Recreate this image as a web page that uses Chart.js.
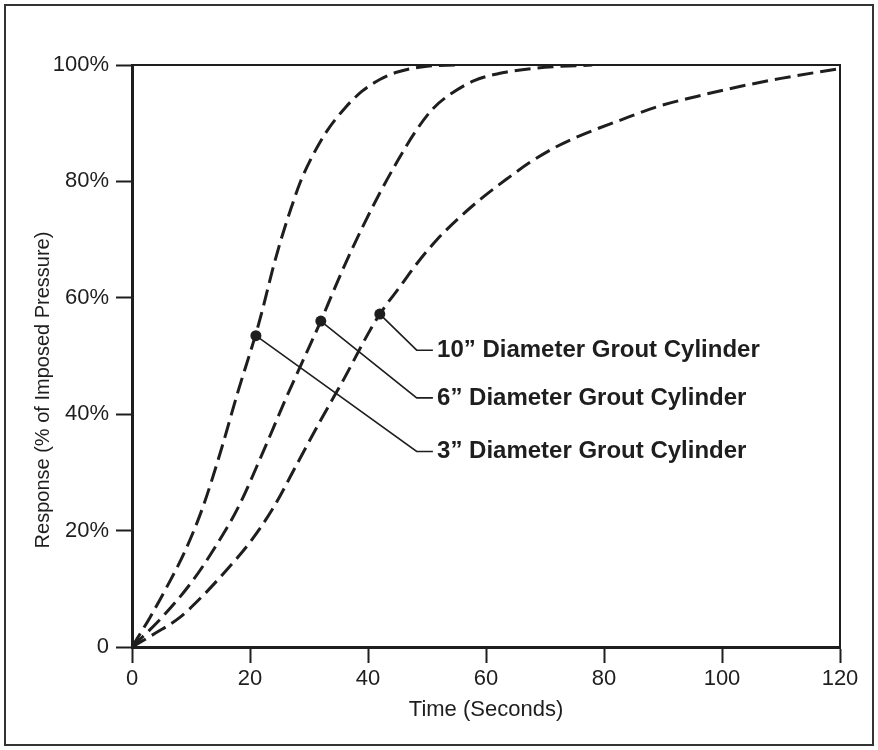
<!DOCTYPE html>
<html>
<head>
<meta charset="utf-8">
<script src="https://cdn.jsdelivr.net/npm/chart.js@4/dist/chart.umd.min.js"></script>
<style>
    body { margin: 0; background: #fff; }
    canvas { display: block; }
</style>
</head>
<body>
<canvas id="myChart" width="878" height="750"></canvas>
<script>
// data (time in seconds, response in %)
const seriesNames = ['3\u201D Diameter Grout Cylinder', '6\u201D Diameter Grout Cylinder', '10\u201D Diameter Grout Cylinder'];

const time3 = [0, 3, 6, 9, 12, 15, 18, 20, 21, 22, 23, 24, 25.5, 27, 28.5, 30.5, 33, 36, 39, 42, 45, 50, 55];
const resp3 = [0, 5, 10.5, 16.5, 24, 33.5, 44, 50.5, 53.8, 57.5, 61.5, 65.5, 70.8, 75.5, 79.8, 84.2, 88.6, 92.5, 95.5, 97.5, 98.8, 99.8, 100];

const time6 = [0, 5, 10, 14, 18, 22, 26, 30, 32, 34, 36, 39, 42, 45, 48, 51, 54, 58, 63, 70, 78];
const resp6 = [0, 5, 11, 17, 24, 33, 42.5, 51.5, 56, 60.8, 65.5, 72, 78, 83.5, 88.5, 92.5, 95, 97.3, 98.7, 99.6, 100];

const time10 = [0, 4, 8, 12, 16, 20, 24, 28, 32, 36, 40, 42, 45.4, 48.3, 51.6, 55.6, 59.5, 63.5, 67.5, 72, 77, 82.7, 88.9, 95.7, 103, 110, 120];
const resp10 = [0, 2.4, 5, 8.8, 13.2, 18, 24, 31.5, 39, 46.2, 53.8, 57.2, 61.9, 65.9, 69.9, 73.9, 77.3, 80.4, 83.3, 86, 88.3, 90.5, 92.8, 94.6, 96.3, 97.7, 99.4];

// marked points on each curve, and where the callout text sits
const markerTime = [21, 32, 42];
const markerResp = [53.5, 56, 57.2];
const calloutResp = [33.6, 42.8, 51];
const calloutBend = 48.25;
const calloutEnd = 51;
const calloutText = 51.7;

const xTicks = [0, 20, 40, 60, 80, 100, 120];
const xTickLabels = ['0', '20', '40', '60', '80', '100', '120'];
const yTicks = [0, 20, 40, 60, 80, 100];
const yTickLabels = ['0', '20%', '40%', '60%', '80%', '100%'];

const ink = '#1e1e1e';

function toPoints(xs, ys) {
    return xs.map((x, i) => ({ x: x, y: ys[i] }));
}

function curve(xs, ys) {
    return {
        data: toPoints(xs, ys),
        showLine: true,
        borderColor: ink,
        borderWidth: 3,
        borderDash: [16, 7],
        cubicInterpolationMode: 'monotone',
        pointRadius: 0,
        fill: false
    };
}

const datasets = [curve(time3, resp3), curve(time6, resp6), curve(time10, resp10)];

// leader lines from each marker to its label
for (let i = 0; i < markerTime.length; i++) {
    datasets.push({
        data: [
            { x: markerTime[i], y: markerResp[i] },
            { x: calloutBend, y: calloutResp[i] },
            { x: calloutEnd, y: calloutResp[i] }
        ],
        showLine: true,
        borderColor: ink,
        borderWidth: 1.6,
        tension: 0,
        pointRadius: 0
    });
}

// marker dots
datasets.push({
    data: toPoints(markerTime, markerResp),
    showLine: false,
    pointRadius: 5.5,
    pointBackgroundColor: ink,
    pointBorderWidth: 0
});

const framePlugin = {
    id: 'frame',
    beforeDraw(chart) {
        const ctx = chart.ctx;
        ctx.save();
        ctx.strokeStyle = '#333';
        ctx.lineWidth = 2;
        ctx.strokeRect(5, 5, 868, 740);
        ctx.restore();
    },
    afterDraw(chart) {
        const ctx = chart.ctx;
        const a = chart.chartArea;
        const x = chart.scales.x;
        const y = chart.scales.y;
        ctx.save();
        // top and right edges of the plot box
        ctx.strokeStyle = ink;
        ctx.lineWidth = 2;
        ctx.beginPath();
        ctx.moveTo(a.left, a.top);
        ctx.lineTo(a.right, a.top);
        ctx.lineTo(a.right, a.bottom);
        ctx.stroke();

        // callout labels
        ctx.fillStyle = ink;
        ctx.font = 'bold 24px "Liberation Sans", Arial, sans-serif';
        ctx.textAlign = 'left';
        ctx.textBaseline = 'middle';
        for (let i = 0; i < seriesNames.length; i++) {
            ctx.fillText(seriesNames[i], x.getPixelForValue(calloutText), y.getPixelForValue(calloutResp[i]));
        }

        // y axis title
        ctx.font = '20px "Liberation Sans", Arial, sans-serif';
        ctx.textAlign = 'center';
        ctx.translate(43, 390);
        ctx.rotate(-Math.PI / 2);
        ctx.fillText('Response (% of Imposed Pressure)', 0, 0);
        ctx.restore();
    }
};

var ctx = document.getElementById('myChart').getContext('2d');
var chart = new Chart(ctx, {
    type: 'scatter',
    data: { datasets: datasets },
    options: {
        responsive: false,
        devicePixelRatio: 1,
        animation: false,
        layout: { padding: { left: 0, top: 65, right: 38, bottom: 0 } },
        plugins: { legend: { display: false }, tooltip: { enabled: false } },
        scales: {
            x: {
                type: 'linear',
                min: 0,
                max: 120,
                afterFit(scale) { scale.height = 103; },
                afterBuildTicks(scale) { scale.ticks = xTicks.map(v => ({ value: v })); },
                grid: { drawOnChartArea: false, drawTicks: true, tickLength: 16, tickWidth: 2, tickColor: ink },
                border: { display: true, color: ink, width: 3 },
                ticks: {
                    color: ink,
                    padding: 3,
                    maxRotation: 0,
                    font: { family: '"Liberation Sans", Arial, sans-serif', size: 22 },
                    callback: (v) => xTickLabels[xTicks.indexOf(v)]
                },
                title: {
                    display: true,
                    text: 'Time (Seconds)',
                    color: ink,
                    padding: { top: 0, bottom: 27 },
                    font: { family: '"Liberation Sans", Arial, sans-serif', size: 22 }
                }
            },
            y: {
                type: 'linear',
                min: 0,
                max: 100,
                afterFit(scale) { scale.width = 132; },
                afterBuildTicks(scale) { scale.ticks = yTicks.map(v => ({ value: v })); },
                grid: { drawOnChartArea: false, drawTicks: true, tickLength: 16, tickWidth: 2, tickColor: ink },
                border: { display: true, color: ink, width: 3 },
                ticks: {
                    color: ink,
                    padding: 7,
                    font: { family: '"Liberation Sans", Arial, sans-serif', size: 22 },
                    callback: (v) => yTickLabels[yTicks.indexOf(v)]
                }
            }
        }
    },
    plugins: [framePlugin]
});
</script>
</body>
</html>
